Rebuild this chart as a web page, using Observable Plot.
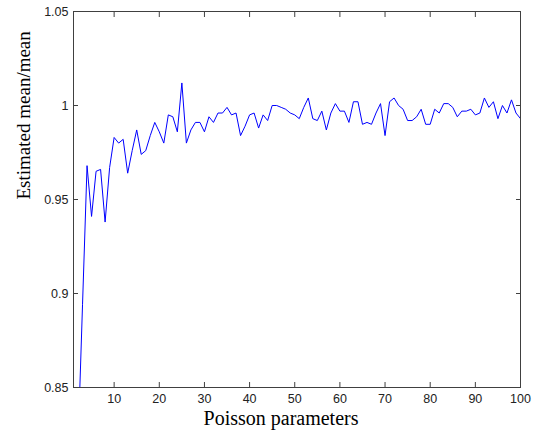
<!DOCTYPE html>
<html>
<head>
<meta charset="utf-8">
<script src="https://cdn.jsdelivr.net/npm/d3@7"></script>
<script src="https://cdn.jsdelivr.net/npm/@observablehq/plot@0.6"></script>
<style>
  html, body { margin: 0; padding: 0; background: #fff; }
  #chart svg { display: block; }
</style>
</head>
<body>
<div id="chart"></div>
<script>
const params = [2,3,4,5,6,7,8,9,10,11,12,13,14,15,16,17,18,19,20,21,22,23,24,25,26,27,28,29,30,
  31,32,33,34,35,36,37,38,39,40,41,42,43,44,45,46,47,48,49,50,51,52,53,54,55,56,57,58,59,60,
  61,62,63,64,65,66,67,68,69,70,71,72,73,74,75,76,77,78,79,80,81,82,83,84,85,86,87,88,89,90,
  91,92,93,94,95,96,97,98,99,100];
const ratios = [0.820,0.894,0.968,0.941,0.965,0.966,0.938,0.967,0.983,0.980,0.982,0.964,0.976,0.987,0.974,0.976,0.984,0.991,0.986,0.980,
  0.995,0.994,0.986,1.012,0.980,0.987,0.991,0.991,0.986,0.994,0.991,0.996,0.996,0.999,0.995,0.996,0.984,0.989,0.995,
  0.996,0.988,0.995,0.992,1.000,1.000,0.999,0.998,0.996,0.995,0.993,0.999,1.004,0.993,0.992,0.997,0.987,0.996,1.001,0.997,
  0.997,0.991,1.002,1.002,0.990,0.991,0.990,0.996,1.001,0.984,1.002,1.004,1.000,0.998,0.992,0.992,0.994,0.998,0.990,0.990,
  0.998,0.996,1.001,1.001,0.999,0.994,0.997,0.997,0.998,0.995,0.996,1.004,0.999,1.002,0.993,1.000,0.996,1.003,0.996,0.993];
const xTicks = [10,20,30,40,50,60,70,80,90,100];
const yTicks = [0.85,0.9,0.95,1,1.05];
const yTickLabels = ["0.85","0.9","0.95","1","1.05"];
const xLabel = "Poisson parameters";
const yLabel = "Estimated mean/mean";

const data = params.map((p, i) => ({p, r: ratios[i]}));
const yFmt = d => yTickLabels[yTicks.indexOf(d)];

const chart = Plot.plot({
  width: 541,
  height: 432,
  marginLeft: 73,
  marginRight: 21,
  marginTop: 11,
  marginBottom: 45,
  style: {background: "#fff", fontFamily: "Liberation Sans, Arial, sans-serif", fontSize: "12.5px", color: "#333"},
  x: {domain: [1, 100]},
  y: {domain: [0.85, 1.05]},
  marks: [
    Plot.line(data, {x: "p", y: "r", stroke: "#0000ff", strokeWidth: 1, clip: true}),
    Plot.frame({stroke: "#404040"}),
    Plot.axisX(xTicks, {anchor: "bottom", tickSize: -5, tickPadding: 12, label: null, stroke: "#404040", fill: "#222"}),
    Plot.axisX(xTicks, {anchor: "top", tickSize: -5, label: null, tickFormat: () => "", stroke: "#404040"}),
    Plot.axisY(yTicks, {anchor: "left", tickSize: -5, tickPadding: 10, label: null, tickFormat: yFmt, stroke: "#404040", fill: "#222"}),
    Plot.axisY(yTicks, {anchor: "right", tickSize: -5, label: null, tickFormat: () => "", stroke: "#404040"}),
    Plot.text([xLabel], {frameAnchor: "bottom", dy: 31, dx: -16, text: d => d, fontFamily: "Liberation Serif, Times New Roman, serif", fontSize: 20, fill: "#000", lineAnchor: "middle"}),
    Plot.text([yLabel], {frameAnchor: "left", dx: -50, rotate: -90, text: d => d, fontFamily: "Liberation Serif, Times New Roman, serif", fontSize: 19, fill: "#000", lineAnchor: "middle"})
  ]
});
document.getElementById("chart").appendChild(chart);
</script>
</body>
</html>
